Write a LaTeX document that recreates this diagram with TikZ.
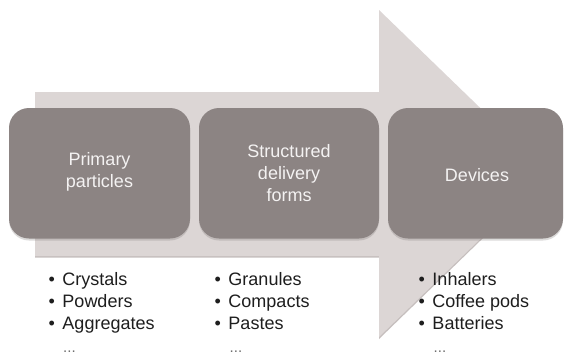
\documentclass[tikz,border=0pt]{standalone}
\usepackage{fontspec}
\setmainfont{Liberation Sans}
\definecolor{arrowfill}{HTML}{DCD6D5}
\definecolor{arrowshade}{HTML}{C6BFBE}
\definecolor{boxfill}{HTML}{8C8483}
\definecolor{boxtext}{HTML}{F4F2F2}
\definecolor{listtext}{HTML}{1E1E1E}
\definecolor{dotsgray}{HTML}{6E6E6E}
\begin{document}
\begin{tikzpicture}[x=1pt,y=-1pt,
  stage/.style={draw=none,fill=boxfill,rounded corners=20pt},
  stagetext/.style={text=boxtext,font=\fontsize{18}{22}\selectfont,align=center,inner sep=0pt},
  item/.style={text=listtext,font=\fontsize{18}{22}\selectfont,anchor=base west,inner sep=0pt},
  more/.style={text=dotsgray,font=\fontsize{15}{22}\selectfont,anchor=base west,inner sep=0pt}]
\useasboundingbox[fill=white] (0,0) rectangle (564,357);
% big arrow (shadow then fill)
\fill[arrowshade] (35,93.5) -- (379,93.5) -- (379,11.5) -- (548,175) -- (379,339) -- (379,257.5) -- (35,257.5) -- cycle;
\fill[arrowfill] (35,92) -- (379,92) -- (379,10) -- (548,173.5) -- (379,337) -- (379,256) -- (35,256) -- cycle;
% stage boxes
\fill[boxfill!85!black,opacity=0.25,rounded corners=20pt] (9,110) rectangle (190,240.5);
\fill[boxfill!85!black,opacity=0.25,rounded corners=20pt] (199,110) rectangle (379,240.5);
\fill[boxfill!85!black,opacity=0.25,rounded corners=20pt] (388,110) rectangle (563,240.5);
\path[stage] (9,108) rectangle (190,238.5);
\path[stage] (199,108) rectangle (379,238.5);
\path[stage] (388,108) rectangle (563,238.5);
\node[stagetext] (s1) at (99.5,172) {Primary\\particles};
\node[stagetext] (s2) at (289,173) {Structured\\delivery\\forms};
\node[stagetext] (s3) at (477,175) {Devices};
% lists
\node[item] (a1) at (48.5,285.5) {\textbullet\hspace{7.5pt}Crystals};
\node[item] (a2) at (48.5,307.5) {\textbullet\hspace{7.5pt}Powders};
\node[item] (a3) at (48.5,329.5) {\textbullet\hspace{7.5pt}Aggregates};
\node[more] (a4) at (63,352.5) {...};
\node[item] (b1) at (214.5,285.5) {\textbullet\hspace{7.5pt}Granules};
\node[item] (b2) at (214.5,307.5) {\textbullet\hspace{7.5pt}Compacts};
\node[item] (b3) at (214.5,329.5) {\textbullet\hspace{7.5pt}Pastes};
\node[more] (b4) at (229.5,352.5) {...};
\node[item] (c1) at (418.5,285.5) {\textbullet\hspace{7.5pt}Inhalers};
\node[item] (c2) at (418.5,307.5) {\textbullet\hspace{7.5pt}Coffee pods};
\node[item] (c3) at (418.5,329.5) {\textbullet\hspace{7.5pt}Batteries};
\node[more] (c4) at (433.5,352.5) {...};
\end{tikzpicture}
\end{document}
